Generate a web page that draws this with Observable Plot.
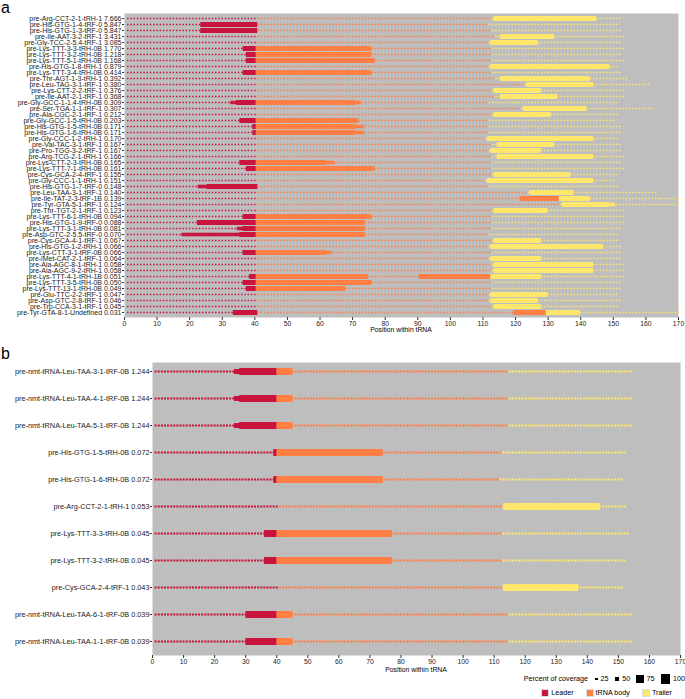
<!DOCTYPE html>
<html><head><meta charset="utf-8">
<script src="https://cdn.jsdelivr.net/npm/d3@7"></script>
<script src="https://cdn.jsdelivr.net/npm/@observablehq/plot@0.6"></script>
<style>
body{margin:0;background:#fff;font-family:"Liberation Sans",Arial,sans-serif;}
#wrap{position:relative;width:685px;height:699px;overflow:hidden;}
.panel{position:absolute;left:0;font-size:16px;line-height:16px;color:#000;}
.ttl{position:absolute;font-size:6.8px;line-height:8px;color:#000;transform:translateX(-50%);white-space:nowrap;}
.leg{position:absolute;display:flex;align-items:center;font-size:7.2px;line-height:10px;color:#000;white-space:nowrap;}
.sq{display:inline-block;background:#000;}
</style></head><body><div id="wrap"></div>
<script>
// ---------- Panel a data ----------
const namesA = [
"pre-Arg-CCT-2-1-tRH-1","pre-His-GTG-1-4-tRF-0","pre-His-GTG-1-3-tRF-0","pre-Ile-AAT-3-2-tRF-1","pre-Gly-TCC-2-5.4-tRF-1",
"pre-Lys-TTT-3-3-tRH-0B","pre-Lys-TTT-3-2-tRH-0B","pre-Lys-TTT-5-1-tRH-0B","pre-His-GTG-1-8-tRH-1","pre-Lys-TTT-3-4-tRH-0B",
"pre-Thr-AGT-1-3-tRH-1","pre-Leu-TAG-3-1-tRF-1","pre-Lys-CTT-2-2-tRF-1","pre-Ile-AAT-2-1-tRF-1","pre-Gly-GCC-1-1.4-tRH-0B",
"pre-Ser-TGA-1-1-tRF-1","pre-Ala-CGC-2-1-tRF-1","pre-Gly-GCC-1-5-tRH-0B","pre-His-GTG-1-5-tRH-0B","pre-His-GTG-1-6-tRH-0B",
"pre-Gly-CCC-1-2-tRH-1","pre-Val-TAC-3-1-tRF-1","pre-Pro-TGG-3-2-tRF-1","pre-Arg-TCG-2-1-tRH-1","pre-Lys-CTT-2-3-tRH-0B",
"pre-Lys-TTT-7-1-tRH-0B","pre-Cys-GCA-2-4-tRF-1","pre-Gly-CCC-1-1-tRH-1","pre-His-GTG-1-7-tRF-0","pre-Leu-TAA-3-1-tRF-1",
"pre-Ile-TAT-2-3-tRF-1B","pre-Tyr-GTA-5-1-tRF-1","pre-Thr-TGT-2-1-tRF-1","pre-Lys-TTT-6-1-tRH-0B","pre-His-GTG-1-9-tRF-0",
"pre-Lys-TTT-3-1-tRH-0B","pre-Asp-GTC-2-5.5-tRF-0","pre-Cys-GCA-4-1-tRF-1","pre-His-GTG-1-2-tRH-1","pre-Lys-CTT-3-1-tRF-0B",
"pre-iMet-CAT-2-1-tRF-1","pre-Ala-AGC-8-1-tRH-1","pre-Ala-AGC-9-2-tRH-1","pre-Lys-TTT-4-1-tRH-1B","pre-Lys-TTT-3-5-tRH-0B",
"pre-Lys-TTT-13-1-tRH-0B","pre-Glu-TTC-2-2-tRF-1","pre-Asp-GTC-2-8-tRF-1","pre-Trp-CCA-3-1-tRF-1","pre-Tyr-GTA-8-1-Undefined"];
const valuesA = ["7.666","5.847","5.847","3.431","3.085","1.770","1.218","1.168","0.879","0.414",
"0.392","0.380","0.376","0.368","0.309","0.307","0.212","0.203","0.171","0.171",
"0.170","0.167","0.167","0.166","0.165","0.161","0.155","0.151","0.148","0.140",
"0.139","0.124","0.123","0.094","0.088","0.081","0.070","0.067","0.066","0.066",
"0.064","0.058","0.058","0.051","0.050","0.049","0.047","0.046","0.045","0.031"];
// last position of the tRNA body (trailer starts after it) and last position of the trailer
const bodyEndA = [112,111,112,113,111,112,112,112,111,112,113,122,112,113,111,121,112,111,111,111,
110,112,111,112,112,112,112,110,111,123,133,133,112,112,112,112,111,112,111,112,
111,112,112,112,112,112,111,111,112,129];
const trailerEndA = [152,151,152,153,152,153,152,153,151,152,154,161,153,153,151,162,151,150,152,152,
151,152,152,153,152,153,151,150,151,163,170,170,153,153,153,152,151,151,152,152,
152,153,153,153,152,152,151,152,151,170];
// covered stretches: [from, to, percent of coverage]
const coverA = [
[[113.2,144.6,100]],
[[22.5,40.6,100]],
[[22.5,40.6,100]],
[[115.3,132.2,100]],
[[112.2,127.3,100]],
[[36.3,40.6,100],[40.4,76.2,100]],
[[36.5,40.6,100],[40.4,76.4,100]],
[[36.5,40.6,100],[40.4,76.6,100]],
[[112,148.8,100]],
[[36.3,40.6,100],[40.4,76.4,100]],
[[115.3,143.4,100]],
[[123.1,144.2,100]],
[[113.4,128.3,100]],
[[115,133,100]],
[[31.9,35.1,55],[34.4,40.6,100],[40.4,70.8,100],[70.2,73.1,60]],
[[122.2,141.9,100]],
[[112.5,130.6,100]],
[[34.5,40.6,100],[40.4,72.5,100]],
[[39.2,40.6,100],[40.4,70.7,100],[70.1,74.4,60]],
[[39.2,40.6,100],[40.4,70.7,100],[70.1,74.4,60]],
[[111.4,143.7,100]],
[[113.9,131.8,100]],
[[112.2,128.1,100]],
[[114.1,143.9,100]],
[[35.3,40.6,100],[40.4,62.5,100],[60.9,65.2,60]],
[[36.8,40.6,100],[40.4,76.7,100]],
[[113.2,136.8,100]],
[[111.4,143.9,100]],
[[22.0,26.1,60],[24.9,40.6,100]],
[[123.5,138.3,100]],
[[121.2,134.4,100],[133.4,142.7,100]],
[[134.4,148.8,100],[147.9,150.6,60]],
[[113.2,130.1,100]],
[[35.5,40.6,100],[40.4,75.7,100]],
[[22.4,40.6,100],[40.4,74.4,100]],
[[34.2,37.1,60],[36.4,40.6,100],[40.4,74.4,100]],
[[16.8,36.4,60],[35.4,40.6,100],[40.4,73.7,100]],
[[113.2,128,100]],
[[112.2,147,100]],
[[36,40.6,100],[40.4,62.5,100],[61.4,64.6,60]],
[[112.2,127.9,100]],
[[113.4,143.9,100]],
[[113.4,143.9,100]],
[[38,40.6,100],[40.4,75.5,100],[89.5,112.4,100],[111.4,128.4,100]],
[[36,40.6,100],[40.4,75.7,100]],
[[36.5,40.6,100],[40.4,68.4,100]],
[[112.2,129.8,100]],
[[112.2,127,100]],
[[113.2,128.4,100]],
[[33.4,40.6,100],[118.7,130.3,100],[129.4,140,100]]];

// ---------- Panel b data ----------
const namesB = ["pre-nmt-tRNA-Leu-TAA-3-1-tRF-0B","pre-nmt-tRNA-Leu-TAA-4-1-tRF-0B","pre-nmt-tRNA-Leu-TAA-5-1-tRF-0B",
"pre-His-GTG-1-5-tRH-0B","pre-His-GTG-1-6-tRH-0B","pre-Arg-CCT-2-1-tRH-1","pre-Lys-TTT-3-3-tRH-0B","pre-Lys-TTT-3-2-tRH-0B",
"pre-Cys-GCA-2-4-tRF-1","pre-nmt-tRNA-Leu-TAA-6-1-tRF-0B","pre-nmt-tRNA-Leu-TAA-1-1-tRF-0B"];
const valuesB = ["1.244","1.244","1.244","0.072","0.072","0.053","0.045","0.045","0.043","0.039","0.039"];
const bodyEndB = [114,114,114,112,111,112,112,112,112,114,114];
const trailerEndB = [154,154,154,152,151,152,153,152,151,154,154];
const coverB = [
[[26.2,29.1,60],[28.1,40.6,100],[40.3,44.8,100]],
[[26.2,29.1,60],[28.1,40.6,100],[40.3,44.8,100]],
[[26.2,29.1,60],[28.1,40.6,100],[40.3,44.8,100]],
[[39.2,40.6,100],[40.4,73.7,100]],
[[39.2,40.6,100],[40.4,73.7,100]],
[[113.2,144.5,100]],
[[36.4,40.6,100],[40.4,76.8,100]],
[[36.4,40.6,100],[40.4,76.8,100]],
[[113.2,136.6,100]],
[[30.3,40.6,100],[40.3,44.8,100]],
[[30.3,40.6,100],[40.3,44.8,100]]];

const regions = ["Leader","tRNA body","Trailer"];
const regionColors = ["#C9143D","#FF7F45","#FFE76C"];
const xTicks = [0,10,20,30,40,50,60,70,80,90,100,110,120,130,140,150,160,170];
const coverageLegend = [25,50,75,100];

// expand each row into one square per nucleotide position
function positions(names, values, bodyEnd, trailerEnd, cover) {
  const pts = [];
  names.forEach((n, i) => {
    const label = n + " " + values[i];
    for (let p = 1; p <= trailerEnd[i]; p++) {
      let cov = 0;
      for (const [s, e, c] of cover[i]) if (p >= s + 0.6 && p <= e - 0.6) cov = Math.max(cov, c);
      const region = p <= 40 ? "Leader" : p <= bodyEnd[i] ? "tRNA body" : "Trailer";
      pts.push({label, x: p, cov, region});
    }
  });
  return pts;
}
const labelsA = namesA.map((n, i) => n + " " + valuesA[i]);
const labelsB = namesB.map((n, i) => n + " " + valuesB[i]);
const ptsA = positions(namesA, valuesA, bodyEndA, trailerEndA, coverA);
const ptsB = positions(namesB, valuesB, bodyEndB, trailerEndB, coverB);

const font = "Liberation Sans, Arial, sans-serif";
const wrap = document.getElementById("wrap");

const plotA = Plot.plot({
  width: 685, height: 337,
  marginTop: 13, marginBottom: 20, marginLeft: 124, marginRight: 7,
  style: {fontFamily: font, fontSize: "6.8px", background: "transparent", color: "#222"},
  x: {domain: [0, 170]},
  y: {type: "point", domain: labelsA, padding: 0.5},
  r: {type: "linear", domain: [0, 100], range: [0.85, 2.8]},
  color: {domain: regions, range: regionColors},
  marks: [
    Plot.frame({fill: "#BEBEBE", stroke: null}),
    Plot.dot(ptsA, {x: "x", y: "label", r: "cov", fill: "region", symbol: "square", sort: null}),
    Plot.axisX({ticks: xTicks, tickSize: 3, tickPadding: 1, label: null, fontSize: 6.8, fill: "#222", stroke: "#333"}),
    Plot.axisY({tickSize: 2, tickPadding: 1, label: null, fontSize: 7, fill: "#222", stroke: "#333"})
  ]
});
plotA.style.position = "absolute"; plotA.style.left = "0px"; plotA.style.top = "0px";
wrap.appendChild(plotA);

const plotB = Plot.plot({
  width: 685, height: 343,
  marginTop: 25, marginBottom: 25, marginLeft: 152, marginRight: 5,
  style: {fontFamily: font, fontSize: "6.8px", background: "transparent", color: "#222"},
  x: {domain: [0, 170]},
  y: {type: "point", domain: labelsB, padding: 0},
  insetTop: 8, insetBottom: 14,
  r: {type: "linear", domain: [0, 100], range: [1.15, 3.9]},
  color: {domain: regions, range: regionColors},
  marks: [
    Plot.frame({fill: "#BEBEBE", stroke: null}),
    Plot.dot(ptsB, {x: "x", y: "label", r: "cov", fill: "region", symbol: "square", sort: null}),
    Plot.axisX({ticks: xTicks, tickSize: 3, tickPadding: 1, label: null, fontSize: 6.8, fill: "#222", stroke: "#333"}),
    Plot.axisY({tickSize: 2, tickPadding: 1, label: null, fontSize: 7.3, fill: "#222", stroke: "#333"})
  ]
});
plotB.style.position = "absolute"; plotB.style.left = "0px"; plotB.style.top = "337px";
wrap.appendChild(plotB);

// panel letters and axis titles
function addDiv(cls, text, css) {
  const d = document.createElement("div");
  d.className = cls; d.textContent = text;
  Object.assign(d.style, css);
  wrap.appendChild(d);
  return d;
}
addDiv("panel", "a", {left: "1px", top: "0px"});
addDiv("panel", "b", {left: "1px", top: "346px"});
addDiv("ttl", "Position within tRNA", {left: "401px", top: "326px"});
addDiv("ttl", "Position within tRNA", {left: "416px", top: "666px"});

// legends
const leg1 = document.createElement("div");
leg1.className = "leg";
Object.assign(leg1.style, {right: "0px", top: "674px"});
const t1 = document.createElement("span"); t1.textContent = "Percent of coverage"; t1.style.marginRight = "5px";
leg1.appendChild(t1);
const sqSize = d3.scaleLinear().domain([25, 100]).range([2.5, 9.5]);
coverageLegend.forEach(v => {
  const s = document.createElement("span"); s.className = "sq";
  const px = sqSize(v);
  Object.assign(s.style, {width: px + "px", height: px + "px", marginRight: "3px", marginLeft: "2px"});
  leg1.appendChild(s);
  const l = document.createElement("span"); l.textContent = v; l.style.marginRight = "4px";
  leg1.appendChild(l);
});
leg1.lastChild.style.marginRight = "0px";
wrap.appendChild(leg1);

const leg2 = document.createElement("div");
leg2.className = "leg";
Object.assign(leg2.style, {right: "13px", top: "688px"});
regions.forEach((r, i) => {
  const s = document.createElement("span"); s.className = "sq";
  Object.assign(s.style, {width: "6px", height: "6px", background: regionColors[i], marginRight: "3px", marginLeft: i ? "13px" : "0px", outline: "0.5px solid #ddd"});
  leg2.appendChild(s);
  const l = document.createElement("span"); l.textContent = r;
  leg2.appendChild(l);
});
wrap.appendChild(leg2);
</script></body></html>
